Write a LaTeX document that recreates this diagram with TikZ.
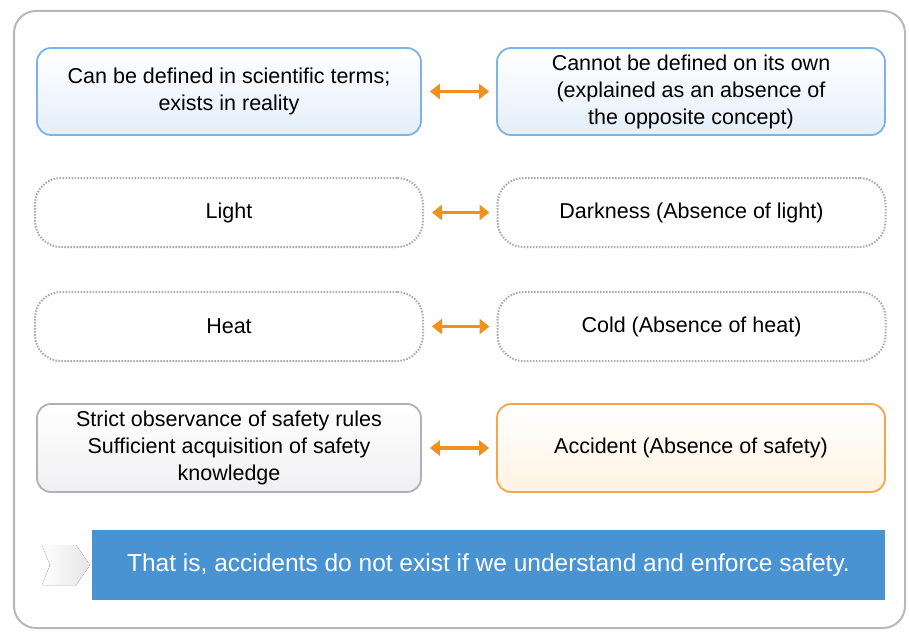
\documentclass[tikz,border=0pt]{standalone}
\usepackage{fontspec}
\setmainfont{Liberation Sans}
\usetikzlibrary{arrows.meta,shapes.misc}
\definecolor{frame}{HTML}{B8B8B8}
\definecolor{bluebd}{HTML}{7FB2E5}
\definecolor{bluefill}{HTML}{E4EFFA}
\definecolor{dotgray}{HTML}{A8A8A8}
\definecolor{orng}{HTML}{F0901E}
\definecolor{orngfill}{HTML}{FFF3E2}
\definecolor{graybd}{HTML}{B0B0B8}
\definecolor{grayfill}{HTML}{F0F0F2}
\definecolor{barblue}{HTML}{4A93D3}
\tikzset{
  txt/.style={font=\fontsize{21.5}{27}\selectfont, align=center, text=black},
  bluebox/.style={txt, draw=bluebd, line width=1.8pt, top color=white, bottom color=bluefill, rounded corners=14pt, minimum width=384pt, minimum height=87pt, inner sep=0pt},
  pillbox/.style={txt, draw=dotgray, line width=2pt, dash pattern=on 1.5pt off 1.5pt, rounded corners=26pt, minimum width=388pt, minimum height=69pt, inner sep=0pt},
  graybox/.style={txt, draw=graybd, line width=1.8pt, top color=white, bottom color=grayfill, rounded corners=14pt, minimum width=384pt, minimum height=88pt, inner sep=0pt},
  orbox/.style={txt, draw=orng!80, line width=1.8pt, top color=white, bottom color=orngfill, rounded corners=14pt, minimum width=388pt, minimum height=88pt, inner sep=0pt},
  dbl/.style={draw=orng, line width=3.5pt, {Triangle[length=10pt,width=15pt]}-{Triangle[length=10pt,width=15pt]}, shorten <=8pt, shorten >=7pt}
}
\begin{document}
\begin{tikzpicture}[x=1pt,y=-1pt]
\useasboundingbox (0,0) rectangle (909,631);
\fill[white] (0,0) rectangle (909,631);
\draw[frame, line width=2pt, rounded corners=22pt] (14,11) rectangle (905,628);

\node[bluebox] (a1) at (229,91.5) {Can be defined in scientific terms;\\exists in reality};
\node[bluebox, minimum width=388pt] (b1) at (691,91.5) {Cannot be defined on its own\\(explained as an absence of\\the opposite concept)};
\node[pillbox] (a2) at (229,212.5) {Light};
\node[pillbox] (b2) at (691.5,212.5) {Darkness (Absence of light)};
\node[pillbox] (a3) at (229,326.5) {Heat};
\node[pillbox] (b3) at (691.5,326.5) {Cold (Absence of heat)};
\node[graybox] (a4) at (229,448) {Strict observance of safety rules\\Sufficient acquisition of safety\\knowledge};
\node[orbox] (b4) at (691,448) {Accident (Absence of safety)};

\draw[dbl] (a1.east) -- (b1.west);
\draw[dbl] (a2.east) -- (b2.west);
\draw[dbl] (a3.east) -- (b3.west);
\draw[dbl] (a4.east) -- (b4.west);

\fill[left color=white, right color=black!10] (42,545) -- (76,545) -- (90,565) -- (76,585) -- (42,585) -- (50,565) -- cycle;
\node[fill=barblue, minimum width=793pt, minimum height=70pt, inner sep=0pt, text=white, font=\fontsize{24.5}{28}\selectfont] (bar) at (488.5,565) {That is, accidents do not exist if we understand and enforce safety.};
\end{tikzpicture}
\end{document}
